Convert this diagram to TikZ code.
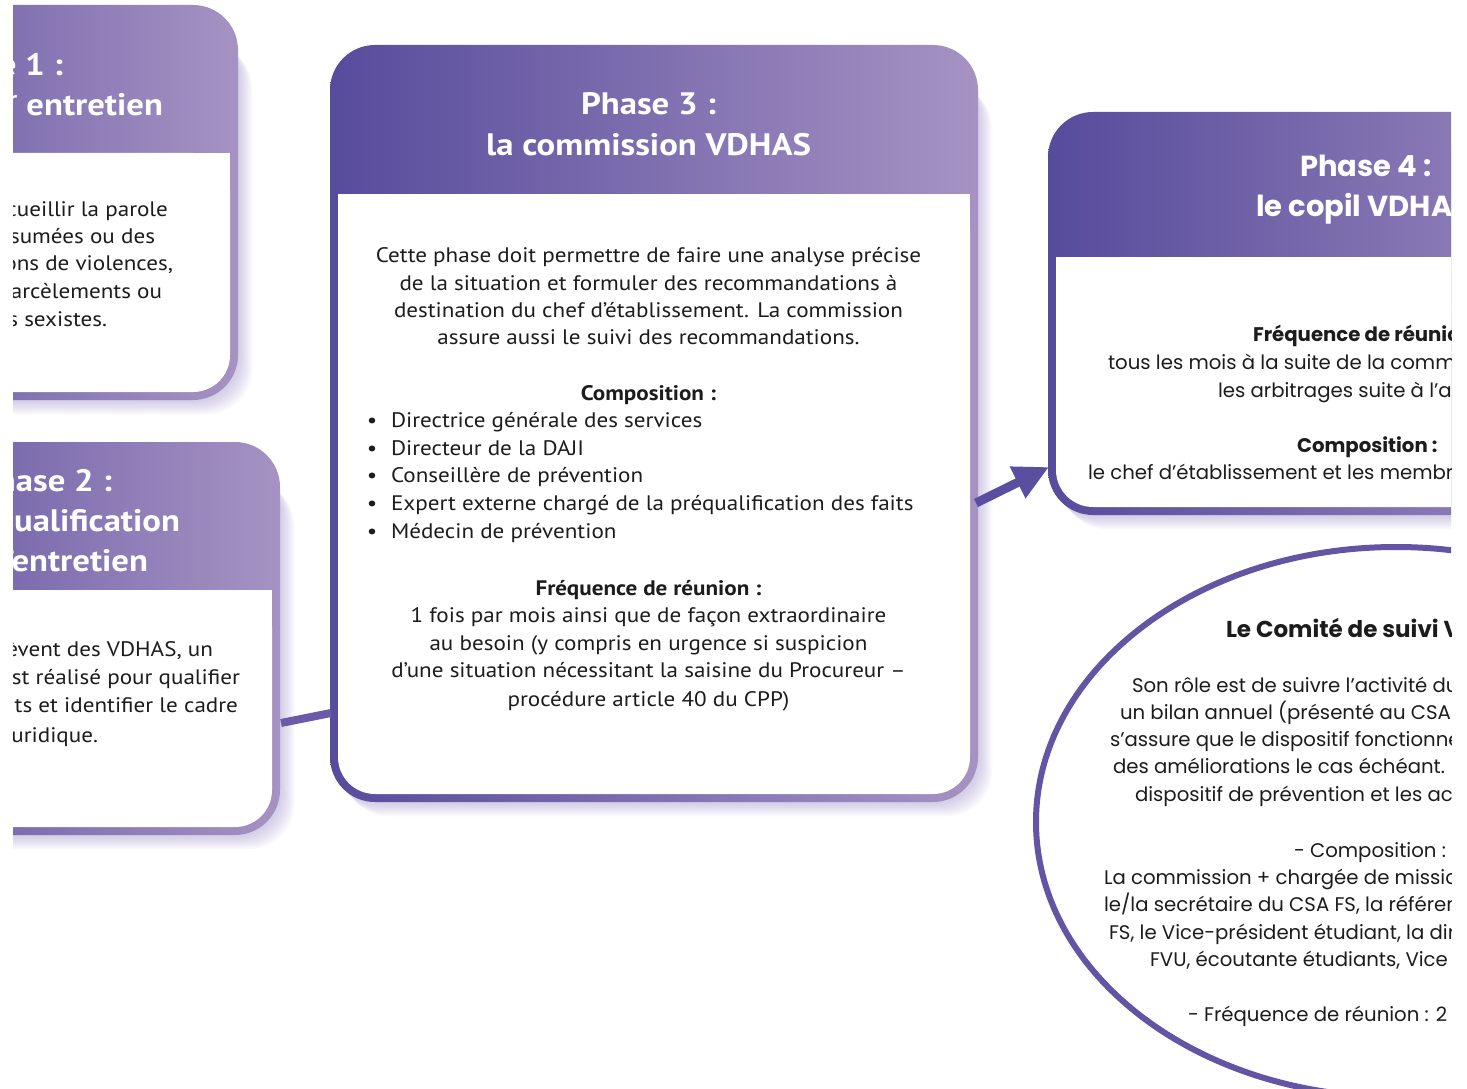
\documentclass[tikz,border=0pt]{standalone}
\usepackage{fontspec}
\setmainfont{PT Sans}
\newfontfamily\hum[FakeStretch=1.1]{PT Sans}
\newfontfamily\humt[FakeStretch=1.12]{PT Sans}
\newfontfamily\geo{Poppins}
\usetikzlibrary{arrows.meta,shapes.geometric}
\definecolor{phDark}{HTML}{574B9C}
\definecolor{phLight}{HTML}{A693C3}
\definecolor{txt}{HTML}{1C1C1C}
\definecolor{shad}{HTML}{8C7FC0}
\definecolor{ring}{HTML}{6454A4}
\definecolor{conn}{HTML}{6A5AA8}
\definecolor{arr}{HTML}{5A4EA0}
\newcommand\phasebox[5]{%
  \foreach \s in {2,4,...,14}{\fill[shad,opacity=0.06,rounded corners=45pt] ({#1+\s},{#2+\s+25}) rectangle ({#3+\s},{#4+\s});}
  \shade[left color=phDark,right color=phLight,rounded corners=45pt] (#1,#2) rectangle (#3,#4);
  \fill[white,rounded corners=37pt] ({#1+8},#5) rectangle ({#3-8},{#4-8});
  \fill[white] ({#1+8},#5) rectangle ({#3-8},{#5+50});
}
\tikzset{
  hb/.style={font=\hum\fontsize{21}{27}\selectfont},
  hbb/.style={font=\hum\fontsize{21}{27}\selectfont\bfseries},
  lb/.style={font=\hum\fontsize{21}{28}\selectfont},
  ht/.style={font=\humt\fontsize{31}{40}\selectfont\bfseries,text=white},
  gb/.style={font=\geo\fontsize{19.7}{27}\selectfont},
  gbb/.style={font=\geo\fontsize{19.7}{27}\selectfont\bfseries},
  gk/.style={font=\geo\fontsize{23}{27}\selectfont\bfseries},
  gt/.style={font=\geo\fontsize{29}{40}\selectfont\bfseries,text=white},
}
\begin{document}
\begin{tikzpicture}[x=1pt,y=-1pt,every node/.style={inner sep=0pt,outer sep=0pt,text=txt}]
\useasboundingbox[fill=white] (0,0) rectangle (1467,1089);
\begin{scope}
\clip (13,0) rectangle (1451,1089);
% boxes
\phasebox{-240}{5}{238}{400}{153}
\phasebox{-220}{442}{280}{835}{590}
\phasebox{330}{45}{978}{802}{194}
\phasebox{1048}{112}{1684}{515}{257}
% ellipse
\node[draw=ring,line width=6pt,ellipse,minimum width=720pt,minimum height=550pt] (comite) at (1396,822) {};
% connectors
\coordinate (c2) at (281,723);
\coordinate (c3) at (331,713);
\draw[conn,line width=8pt] (c2) -- (c3);
\coordinate (a3) at (976,503);
\coordinate (a4) at (1049,467);
\draw[arr,line width=9pt,-{Triangle[length=35pt,width=33pt]}] (a3) -- (a4);
% Phase 1
\node[ht,anchor=base east] (p1t1) at (63,76) {Phase 1 :};
\node[ht,anchor=base east] (p1t2) at (163,116) {le 1\textsuperscript{er} entretien};
\node[lb,anchor=base east] (p1b1) at (168,216) {Cet entretien permet de recueillir la parole};
\node[lb,anchor=base east] (p1b2) at (155,243) {des victimes présumées ou des};
\node[lb,anchor=base east] (p1b3) at (173,270) {témoins de situations de violences,};
\node[lb,anchor=base east] (p1b4) at (162,298) {discriminations, harcèlements ou};
\node[lb,anchor=base east] (p1b5) at (107,326) {agissements sexistes.};
% Phase 2
\node[ht,anchor=base east] (p2t1) at (112,491) {Phase 2 :};
\node[ht,anchor=base east] (p2t2) at (180,531) {la qualification};
\node[ht,anchor=base east] (p2t3) at (148,571) {de l’entretien};
\node[lb,anchor=base east] (p2b1) at (213,656) {Lorsque les faits relèvent des VDHAS, un};
\node[lb,anchor=base east] (p2b2) at (240,684) {entretien est réalisé pour qualifier};
\node[lb,anchor=base east] (p2b3) at (238,712) {les faits et identifier le cadre};
\node[lb,anchor=base east] (p2b4) at (98,742) {juridique.};
% Phase 3
\node[ht,anchor=base] (p3t1) at (648.5,115) {Phase 3 :};
\node[ht,anchor=base] (p3t2) at (648.5,155) {la commission VDHAS};
\node[hb,anchor=base] (p3a1) at (648.5,262) {Cette phase doit permettre de faire une analyse précise};
\node[hb,anchor=base] (p3a2) at (648.5,290) {de la situation et formuler des recommandations à};
\node[hb,anchor=base] (p3a3) at (648.5,317) {destination du chef d’établissement. La commission};
\node[hb,anchor=base] (p3a4) at (648.5,344) {assure aussi le suivi des recommandations.};
\node[hbb,anchor=base] (p3c) at (648.5,400) {Composition :};
\foreach \t [count=\i] in {Directrice générale des services,Directeur de la DAJI,Conseillère de prévention,Expert externe chargé de la préqualification des faits,Médecin de prévention}{
  \node[hb,anchor=base] (p3d\i) at (372,{400+27.6*\i}) {•};
  \node[hb,anchor=base west] (p3e\i) at (391,{400+27.6*\i}) {\t};
}
\node[hbb,anchor=base] (p3f) at (648.5,595) {Fréquence de réunion :};
\node[hb,anchor=base] (p3g1) at (648.5,622) {1 fois par mois ainsi que de façon extraordinaire};
\node[hb,anchor=base] (p3g2) at (648.5,650) {au besoin (y compris en urgence si suspicion};
\node[hb,anchor=base] (p3g3) at (648.5,677) {d’une situation nécessitant la saisine du Procureur –};
\node[hb,anchor=base] (p3g4) at (648.5,706) {procédure article 40 du CPP)};
% Phase 4
\node[gt,anchor=base west] (p4t1) at (1300,176) {Phase 4 :};
\node[gt,anchor=base west] (p4t2) at (1256,216) {le copil VDHAS};
\node[gbb,anchor=base west] (p4a) at (1253,341) {Fréquence de réunion :};
\node[gb,anchor=base west] (p4b1) at (1108,369) {tous les mois à la suite de la commission pour};
\node[gb,anchor=base west] (p4b2) at (1218,397) {les arbitrages suite à l’analyse};
\node[gbb,anchor=base west] (p4c) at (1297,452) {Composition :};
\node[gb,anchor=base west] (p4d) at (1088,479) {le chef d’établissement et les membres};
% Comite
\node[gk,anchor=base west] (k0) at (1226,637) {Le Comité de suivi VDHAS};
\node[gb,anchor=base west] (k1) at (1132,692) {Son rôle est de suivre l’activité du dispositif};
\node[gb,anchor=base west] (k2) at (1120,719) {un bilan annuel (présenté au CSA FS)};
\node[gb,anchor=base west] (k3) at (1110,746) {s’assure que le dispositif fonctionne};
\node[gb,anchor=base west] (k4) at (1113,773) {des améliorations le cas échéant. Il};
\node[gb,anchor=base west] (k5) at (1135,801) {dispositif de prévention et les actions};
\node[gb,anchor=base west] (k6) at (1294,857) {- Composition :};
\node[gb,anchor=base west] (k7) at (1104,884) {La commission + chargée de mission};
\node[gb,anchor=base west] (k8) at (1104,911) {le/la secrétaire du CSA FS, la référente};
\node[gb,anchor=base west] (k9) at (1109,939) {FS, le Vice-président étudiant, la direction};
\node[gb,anchor=base west] (k10) at (1150,966) {FVU, écoutante étudiants, Vice};
\node[gb,anchor=base west] (k11) at (1188,1021) {- Fréquence de réunion : 2 fois};
\end{scope}
\end{tikzpicture}
\end{document}
